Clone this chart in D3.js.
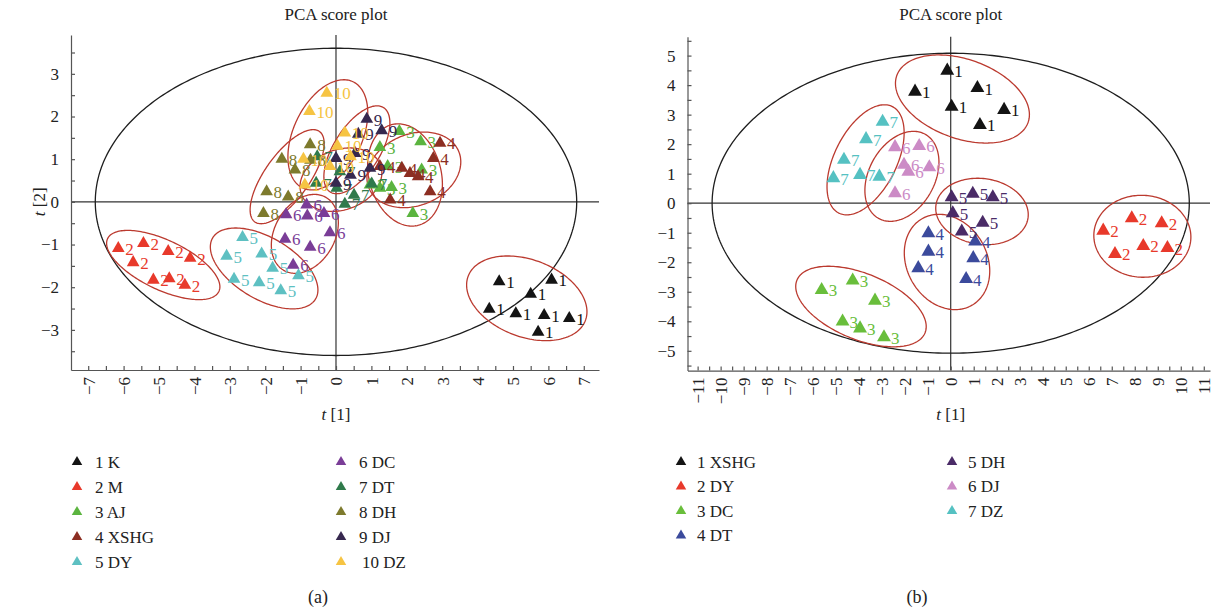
<!DOCTYPE html>
<html><head><meta charset="utf-8">
<script src="https://cdn.jsdelivr.net/npm/d3@7"></script>
<style>
body{margin:0;background:#fff;}
svg{display:block;font-family:"Liberation Serif","Times New Roman",serif;}
</style></head><body>
<svg id="chart" width="1213" height="614"></svg>
<script>
// ---------- Panel (a) data: PCA scores [t1, t2] ----------
const aGroups = ["1 K","2 M","3 AJ","4 XSHG","5 DY","6 DC","7 DT","8 DH","9 DJ","10 DZ"];
const aK    = [[4.61,-1.87],[6.09,-1.83],[5.50,-2.16],[4.33,-2.51],[5.08,-2.62],[5.88,-2.66],[6.59,-2.73],[5.71,-3.05]];
const aM    = [[-6.15,-1.09],[-5.44,-0.97],[-4.74,-1.16],[-4.12,-1.32],[-5.73,-1.42],[-5.16,-1.83],[-4.71,-1.80],[-4.27,-1.95]];
const aAJ   = [[1.79,1.65],[2.39,1.41],[1.24,1.28],[1.46,0.83],[2.42,0.75],[0.96,0.40],[1.24,0.32],[1.57,0.34],[2.17,-0.27]];
const aXSHG = [[2.94,1.38],[2.75,1.02],[1.86,0.79],[2.09,0.67],[2.32,0.59],[2.66,0.24],[1.53,0.05],[1.24,0.83]];
const aDY   = [[-2.64,-0.83],[-3.09,-1.27],[-2.10,-1.22],[-1.79,-1.55],[-2.88,-1.81],[-2.17,-1.89],[-1.56,-2.08],[-1.06,-1.73]];
const aDC   = [[-1.41,-0.30],[-0.83,-0.07],[-0.81,-0.33],[-0.34,-0.27],[-0.17,-0.72],[-1.44,-0.87],[-0.73,-1.06],[-1.21,-1.48]];
const aDT   = [[-0.53,1.06],[-0.56,0.44],[0.11,0.71],[0.51,0.16],[0.25,-0.05],[1.01,0.42],[0.02,0.32]];
const aDH   = [[-0.73,1.34],[-1.53,1.00],[-1.16,0.75],[-1.96,0.24],[-1.35,0.12],[-2.05,-0.27],[-0.72,0.98]];
const aDJ   = [[0.87,1.94],[0.63,1.59],[1.29,1.67],[0.54,1.14],[0.00,1.02],[0.96,0.79],[0.41,0.63],[0.00,0.44]];
const aDZ   = [[-0.26,2.55],[-0.75,2.12],[0.25,1.62],[0.04,1.31],[0.41,1.06],[-0.17,0.83],[-0.92,1.00],[-0.88,0.40]];
// group confidence ellipses: [centre t1, centre t2, semi-major, semi-minor (t1 units), angle deg]
const aEllipses = [[5.39,-2.26,1.77,1.09,20.7],[-4.88,-1.48,1.74,0.70,25.4],[1.95,0.63,1.47,1.02,75],[2.20,0.75,1.37,1.01,-22],
                   [-2.03,-1.56,1.69,0.87,30.7],[-0.88,-0.75,1.19,0.85,-60],[0.14,0.52,1.19,0.85,-20],[-1.38,0.59,1.57,0.63,-54.5],
                   [0.59,1.22,1.41,0.65,-57.7],[-0.23,1.57,1.66,0.97,-64.7]];
const aHotelling = [6.8, 3.6];
const aXTicks = d3.range(-14, 15).map(i => i / 2);
const aYTicks = d3.range(-7, 8).map(i => i / 2);

// ---------- Panel (b) data ----------
const bGroups = ["1 XSHG","2 DY","3 DC","4 DT","5 DH","6 DJ","7 DZ"];
const bXSHG = [[-0.15,4.49],[-1.55,3.78],[1.16,3.90],[0.04,3.27],[2.32,3.16],[1.27,2.65]];
const bDY   = [[6.63,-0.93],[7.87,-0.51],[9.17,-0.68],[7.14,-1.72],[8.37,-1.45],[9.42,-1.52]];
const bDC   = [[-5.61,-2.94],[-4.26,-2.62],[-3.29,-3.30],[-4.70,-4.01],[-3.94,-4.24],[-2.90,-4.54]];
const bDT   = [[-0.97,-1.02],[-0.97,-1.64],[-1.41,-2.20],[0.98,-1.86],[1.06,-1.30],[0.67,-2.57]];
const bDH   = [[0.04,0.20],[0.96,0.32],[1.83,0.20],[0.09,-0.34],[1.39,-0.66],[0.48,-0.96]];
const bDJ   = [[-2.42,1.90],[-1.37,1.94],[-2.03,1.30],[-1.84,1.07],[-0.93,1.22],[-2.42,0.34]];
const bDZ   = [[-2.96,2.76],[-3.68,2.17],[-4.64,1.47],[-3.94,0.96],[-3.10,0.90],[-5.10,0.85]];
const bEllipses = [[0.51,3.53,3.03,1.72,19.7],[8.33,-1.12,2.11,1.78,3],[-3.90,-3.50,3.01,1.43,22.4],[-0.16,-1.99,2.17,1.74,60],
                   [1.36,-0.28,2.02,1.43,8],[-2.12,0.91,2.09,1.43,-61],[-3.70,1.47,2.59,1.35,-63.3]];
const bHotelling = [10.37, 5.08];
const bXTicks = d3.range(-22, 23).map(i => i / 2);
const bYTicks = d3.range(-11, 12).map(i => i / 2);

// ---------- styles ----------
const aColors = ["#141414","#e8392b","#5bb43f","#8c2e22","#5ec0c2","#7a3d97","#2f7a4b","#7d7a2d","#36284f","#f6c443"];
const bColors = ["#141414","#e8392b","#69be3b","#3b4a9c","#4a2b67","#cc8bc6","#55c1c2"];

const svg = d3.select("#chart");
const FONT = '"Liberation Serif","Times New Roman",serif';
const fmt = d => Number.isInteger(d) ? (d < 0 ? "\u2212" + Math.abs(d) : String(d)) : "";

function drawPanel(p) {
  const x = d3.scaleLinear().domain(p.xDom).range(p.xR);
  const y = d3.scaleLinear().domain(p.yDom).range(p.yR);
  const unit = x(1) - x(0);
  const g = svg.append("g");
  const line = d3.line().curve(d3.curveLinearClosed);

  // zero lines
  g.append("line").attr("x1", p.xR[0]).attr("x2", p.xR[1]).attr("y1", y(0)).attr("y2", y(0))
    .attr("stroke", "#333").attr("stroke-width", 1.2);
  g.append("line").attr("x1", x(0)).attr("x2", x(0)).attr("y1", p.yR[0]).attr("y2", p.yR[1])
    .attr("stroke", "#333").attr("stroke-width", 1.2);

  // Hotelling ellipse
  const big = d3.range(0, 360, 1).map(d => { const t = d * Math.PI / 180;
    return [x(p.big[0] * Math.cos(t)), y(p.big[1] * Math.sin(t))]; });
  g.append("path").attr("d", line(big)).attr("fill", "none").attr("stroke", "#1e1e1e").attr("stroke-width", 1.3);

  // axes
  const ya = g.append("g").attr("transform", `translate(${p.xR[0]},0)`)
    .call(d3.axisLeft(y).tickValues(p.yTicks).tickSizeInner(-4).tickSizeOuter(0).tickPadding(12).tickFormat(fmt));
  const xa = g.append("g").attr("transform", `translate(0,${p.yR[0]})`)
    .call(d3.axisBottom(x).tickValues(p.xTicks).tickSizeInner(-4).tickSizeOuter(0).tickFormat(fmt));
  xa.selectAll(".tick text").attr("x", 0).attr("y", 0).attr("dy", "0.35em")
    .attr("transform", "translate(0,7) rotate(-90)").attr("text-anchor", "end");
  [ya, xa].forEach(a => {
    a.attr("font-family", FONT).attr("font-size", 17);
    a.selectAll("path,line").attr("stroke", "#555").attr("stroke-width", 1.2);
    a.selectAll("text").attr("fill", "#222");
  });

  // group ellipses
  p.ellipses.forEach(e => {
    const cx = x(e[0]), cy = y(e[1]), A = e[2] * unit, B = e[3] * unit, al = e[4] * Math.PI / 180;
    const pts = d3.range(0, 360, 2).map(d => { const t = d * Math.PI / 180;
      return [cx + A * Math.cos(t) * Math.cos(al) - B * Math.sin(t) * Math.sin(al),
              cy + A * Math.cos(t) * Math.sin(al) + B * Math.sin(t) * Math.cos(al)]; });
    g.append("path").attr("d", line(pts)).attr("fill", "none").attr("stroke", "#bb3a2f").attr("stroke-width", 1.3);
  });

  // points + labels
  p.series.forEach((s, i) => {
    const col = p.colors[i], num = p.groups[i].split(" ")[0];
    g.append("g").selectAll("path").data(s).join("path")
      .attr("transform", d => `translate(${x(d[0])},${y(d[1])})`)
      .attr("d", d3.symbol(d3.symbolTriangle, p.msize)).attr("fill", col);
    g.append("g").selectAll("text").data(s).join("text")
      .attr("x", d => x(d[0]) + 7).attr("y", d => y(d[1])).attr("dy", "0.38em")
      .attr("font-size", 17).attr("fill", col).text(num);
  });

  // title and axis labels
  const cxm = x(0);
  g.append("text").attr("x", cxm).attr("y", 20).attr("text-anchor", "middle").attr("font-size", 17)
    .attr("fill", "#222").text("PCA score plot");
  const xl = g.append("text").attr("x", cxm).attr("y", 420).attr("text-anchor", "middle").attr("font-size", 17).attr("fill", "#222");
  xl.append("tspan").attr("font-style", "italic").text("t");
  xl.append("tspan").text(" [1]");
  if (p.ylab) {
    const yl = g.append("text").attr("transform", `translate(45,${y(0)}) rotate(-90)`).attr("text-anchor", "middle")
      .attr("font-size", 17).attr("fill", "#222");
    yl.append("tspan").attr("font-style", "italic").text("t");
    yl.append("tspan").text(" [2]");
  }

  // legend
  p.groups.forEach((name, i) => {
    const col = Math.floor(i / p.legRows), row = i % p.legRows;
    const lx = p.leg[col][0], ly = p.legY + row * p.legStep;
    g.append("path").attr("transform", `translate(${lx},${ly})`)
      .attr("d", d3.symbol(d3.symbolTriangle, 48)).attr("fill", p.colors[i]);
    g.append("text").attr("x", p.leg[col][1] + (name.startsWith("10") ? 3 : 0)).attr("y", ly).attr("dy", "0.35em")
      .attr("font-size", 17).attr("fill", "#222").text(name);
  });

  // caption
  g.append("text").attr("x", p.cap[0]).attr("y", p.cap[1]).attr("text-anchor", "middle")
    .attr("font-size", 18).attr("fill", "#222").text(p.capText);
}

drawPanel({
  xDom: [-7.486, 7.43], xR: [71, 599], yDom: [-3.94, 3.91], yR: [370, 35],
  xTicks: aXTicks, yTicks: aYTicks, big: aHotelling, ellipses: aEllipses,
  series: [aK, aM, aAJ, aXSHG, aDY, aDC, aDT, aDH, aDJ, aDZ], groups: aGroups, colors: aColors,
  msize: 70, ylab: true, legRows: 5, leg: [[77, 95], [341, 359]], legY: 462, legStep: 25,
  cap: [318, 603], capText: "(a)"
});
drawPanel({
  xDom: [-11.44, 11.27], xR: [687.5, 1210], yDom: [-5.67, 5.64], yR: [370.6, 36.7],
  xTicks: bXTicks, yTicks: bYTicks, big: bHotelling, ellipses: bEllipses,
  series: [bXSHG, bDY, bDC, bDT, bDH, bDJ, bDZ], groups: bGroups, colors: bColors,
  msize: 84, ylab: false, legRows: 4, leg: [[681, 697], [952, 968]], legY: 462, legStep: 24.5,
  cap: [917, 603], capText: "(b)"
});
</script>
</body></html>
